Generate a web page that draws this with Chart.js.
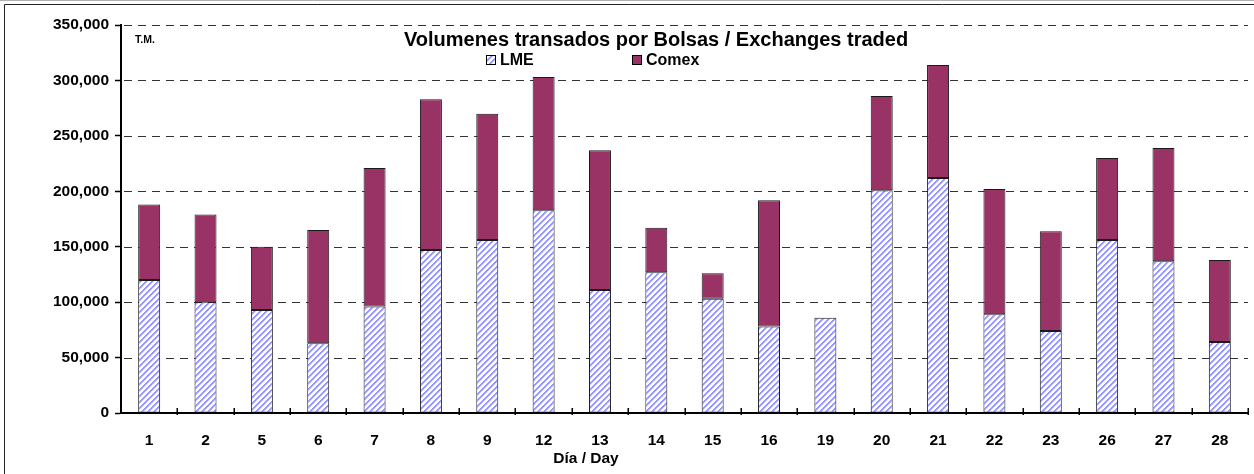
<!DOCTYPE html>
<html>
<head>
<meta charset="utf-8">
<script src="https://cdn.jsdelivr.net/npm/chart.js@4/dist/chart.umd.min.js"></script>
<style>
  html, body { margin: 0; padding: 0; background: #fff; }
  #wrap { width: 1254px; height: 474px; }
</style>
</head>
<body>
<div id="wrap"><canvas id="c" width="1254" height="474"></canvas></div>
<script>
// ---- Data ----
const days = ['1','2','5','6','7','8','9','12','13','14','15','16','19','20','21','22','23','26','27','28'];
const lme = [120000,100000,93000,63000,96000,147000,156000,183000,111000,127000,103000,78000,86000,201000,212000,89000,74000,156000,137000,64000];
const comex = [68000,79000,57000,102000,125000,136000,114000,120000,126000,40000,23000,114000,0,85000,102000,113000,90000,74000,102000,74000];
const yTicks = [0,50000,100000,150000,200000,250000,300000,350000];
const seriesNames = ['LME','Comex'];
const chartTitle = 'Volumenes transados por Bolsas / Exchanges traded';
const unitLabel = 'T.M.';
const xTitle = 'Día / Day';

const FONT = '"Liberation Sans", Arial, sans-serif';

// hatch pattern for LME
function makeHatch() {
  const N = 6;
  const p = document.createElement('canvas');
  p.width = N; p.height = N;
  const g = p.getContext('2d');
  const img = g.createImageData(N, N);
  for (let y = 0; y < N; y++) {
    for (let x = 0; x < N; x++) {
      const k = (x + y) % N;
      let c = [255,255,255];
      if (k === 0 || k === 1) c = [150,150,255];
      else if (k === 2) c = [200,200,255];
      const i = (y * N + x) * 4;
      img.data[i] = c[0]; img.data[i+1] = c[1]; img.data[i+2] = c[2]; img.data[i+3] = 255;
    }
  }
  g.putImageData(img, 0, 0);
  return g.createPattern(p, 'repeat');
}
const ctx = document.getElementById('c').getContext('2d');
const hatch = makeHatch();
const comexColor = '#993366';

const decorPlugin = {
  id: 'decor',
  beforeDraw(chart) {
    const c = chart.ctx;
    c.save();
    c.fillStyle = '#fff';
    c.fillRect(0, 0, chart.width, chart.height);
    // outer frame
    c.strokeStyle = '#b0b0b0';
    c.lineWidth = 1;
    c.beginPath(); c.moveTo(0, 0.5); c.lineTo(chart.width, 0.5); c.stroke();
    c.strokeStyle = '#222';
    c.beginPath();
    c.moveTo(4.5, chart.height + 5); c.lineTo(4.5, 4.5); c.lineTo(chart.width + 5, 4.5);
    c.stroke();
    c.restore();
  },
  beforeDatasetsDraw(chart) {
    // dashed horizontal gridlines
    const c = chart.ctx;
    const a = chart.chartArea;
    const ys = chart.scales.y;
    c.save();
    c.strokeStyle = '#333';
    c.lineWidth = 1;
    c.setLineDash([8, 6]);
    yTicks.forEach(v => {
      if (v === yTicks[0]) return;
      const y = Math.round(ys.getPixelForValue(v)) + 0.5;
      c.beginPath(); c.moveTo(a.left + 3, y); c.lineTo(a.right, y); c.stroke();
    });
    c.restore();
  },
  afterDatasetsDraw(chart) {
    const c = chart.ctx;
    const a = chart.chartArea;
    c.save();
    // x-axis category separator ticks
    c.strokeStyle = '#000';
    c.lineWidth = 1.5;
    const n = days.length;
    const w = (a.right - a.left) / n;
    for (let i = 1; i <= n; i++) {
      const x = Math.round(a.left + i * w) + 0.25;
      c.beginPath(); c.moveTo(x, a.bottom - 5); c.lineTo(x, a.bottom + 2); c.stroke();
    }
    // title
    c.fillStyle = '#000';
    c.textAlign = 'center';
    c.textBaseline = 'middle';
    c.font = 'bold 20px ' + FONT;
    c.fillText(chartTitle, a.left + 535, a.top + 15);
    // unit label
    c.textAlign = 'left';
    c.font = 'bold 10.5px ' + FONT;
    c.fillText(unitLabel, a.left + 14, a.top + 15);
    // legend
    const fills = [hatch, comexColor];
    const lx = [a.left + 365, a.left + 511];
    c.font = 'bold 16px ' + FONT;
    for (let i = 0; i < 2; i++) {
      c.fillStyle = fills[i];
      c.fillRect(lx[i], a.top + 30, 9, 9);
      c.strokeStyle = '#000';
      c.lineWidth = 1;
      c.strokeRect(lx[i] + 0.5, a.top + 30.5, 9, 9);
      c.fillStyle = '#000';
      c.fillText(seriesNames[i], lx[i] + 14, a.top + 36);
    }
    // x-axis title
    c.textAlign = 'center';
    c.font = 'bold 15.5px ' + FONT;
    c.fillText(xTitle, a.left + 465, a.bottom + 46);
    c.restore();
  }
};

new Chart(ctx, {
  type: 'bar',
  data: {
    labels: days,
    datasets: [
      { label: seriesNames[0], data: lme, backgroundColor: hatch, borderColor: '#1a1a1a', borderWidth: 1, borderSkipped: false, stack: 's' },
      { label: seriesNames[1], data: comex, backgroundColor: comexColor, borderColor: '#1a1a1a', borderWidth: 1, borderSkipped: false, stack: 's' }
    ]
  },
  options: {
    responsive: false,
    animation: false,
    devicePixelRatio: 1,
    layout: { padding: { top: 25, right: 6, left: 0, bottom: 0 } },
    datasets: { bar: { categoryPercentage: 1, barPercentage: 0.39 } },
    plugins: { legend: { display: false }, title: { display: false }, tooltip: { enabled: false } },
    scales: {
      x: {
        stacked: true,
        grid: { display: false },
        border: { display: true, color: '#000', width: 2 },
        ticks: { color: '#000', padding: 10, font: { family: FONT, size: 15.5, weight: 'bold' }, maxRotation: 0, autoSkip: false },
        afterFit: s => { s.height = 61; }
      },
      y: {
        stacked: true,
        min: yTicks[0],
        max: yTicks[yTicks.length - 1],
        afterBuildTicks: s => { s.ticks = yTicks.map(v => ({ value: v })); },
        grid: { drawOnChartArea: false, tickColor: '#000', tickLength: 6, tickWidth: 1.5 },
        border: { display: true, color: '#000', width: 2 },
        ticks: {
          color: '#000', padding: 6,
          font: { family: FONT, size: 15.5, weight: 'bold' },
          callback: v => Number(v).toLocaleString('en-US')
        },
        afterFit: s => { s.width = 121; }
      }
    }
  },
  plugins: [decorPlugin]
});
</script>
</body>
</html>
